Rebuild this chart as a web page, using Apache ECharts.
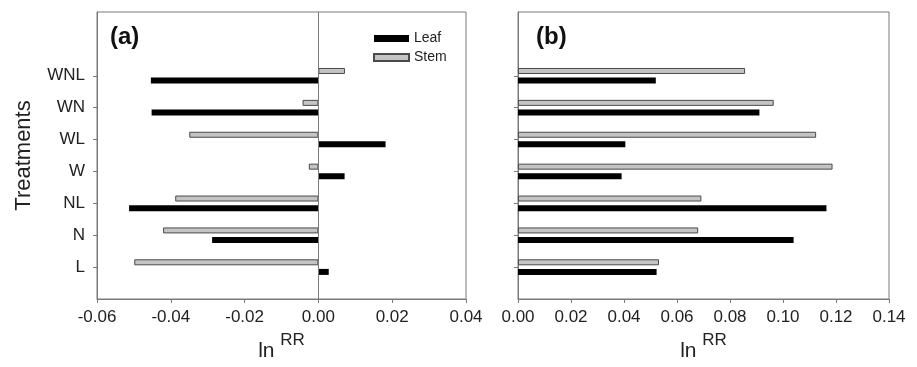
<!DOCTYPE html>
<html>
<head>
<meta charset="utf-8">
<script src="https://cdn.jsdelivr.net/npm/echarts@6/dist/echarts.min.js"></script>
<style>html,body{margin:0;padding:0;background:#fff}#c{width:917px;height:367px}</style>
</head>
<body>
<div id="c"></div>
<script>
// bottom to top
var categories = ['L', 'N', 'NL', 'W', 'WL', 'WN', 'WNL'];
var leafA = [0.0028, -0.0288, -0.0513, 0.0071, 0.0182, -0.0452, -0.0454];
var stemA = [-0.0499, -0.0421, -0.0388, -0.0026, -0.0350, -0.0043, 0.0072];
var leafB = [0.0523, 0.1040, 0.1164, 0.0391, 0.0405, 0.0911, 0.0520];
var stemB = [0.0532, 0.0680, 0.0692, 0.1187, 0.1125, 0.0965, 0.0857];
var xTicksA = [-0.06, -0.04, -0.02, 0.00, 0.02, 0.04];
var xTicksB = [0.00, 0.02, 0.04, 0.06, 0.08, 0.10, 0.12, 0.14];

function pad(arr) { return [null].concat(arr, [null, null]); }
var cats = pad(categories).map(function (v) { return v === null ? '' : v; });

var FONT = 'Liberation Sans, Arial, sans-serif';
var TXT = '#222';
var AX = '#7a7a7a';

function fmt(v) { return Math.abs(v) < 1e-9 ? '0.00' : v.toFixed(2); }

function xAxis(idx, ticks) {
  return {
    type: 'value', gridIndex: idx,
    min: ticks[0], max: ticks[ticks.length - 1], interval: 0.02,
    axisLine: { show: true, lineStyle: { color: AX, width: 1 } },
    axisTick: { show: true, length: 4, lineStyle: { color: AX } },
    splitLine: { show: false },
    axisLabel: { formatter: fmt, color: TXT, fontSize: 17, fontFamily: FONT, margin: 10 },
    name: '{a|ln }{b|RR}', nameLocation: 'middle', nameGap: 33,
    nameTextStyle: {
      fontFamily: FONT, color: TXT,
      rich: {
        a: { fontSize: 21, fontFamily: FONT, color: TXT, lineHeight: 30, verticalAlign: 'bottom' },
        b: { fontSize: 17, fontFamily: FONT, color: TXT, lineHeight: 30, verticalAlign: 'top' }
      }
    }
  };
}
function yAxis(idx, showLabels) {
  return {
    type: 'category', gridIndex: idx, data: cats, boundaryGap: false,
    axisLine: { show: true, onZero: false, lineStyle: { color: AX, width: 1 } },
    axisTick: { show: true, length: 4, lineStyle: { color: AX },
      interval: function (i, v) { return v !== ''; } },
    axisLabel: { show: showLabels, interval: 0, color: TXT, fontSize: 17, fontFamily: FONT, margin: 12 },
    splitLine: { show: false },
    name: showLabels ? 'Treatments' : '',
    nameLocation: 'middle', nameRotate: 90, nameGap: 62,
    nameTextStyle: { fontSize: 22, fontFamily: FONT, color: TXT }
  };
}
var leafStyle = { color: '#000', borderColor: '#000', borderWidth: 0 };
var stemStyle = { color: '#c4c4c4', borderColor: '#4a4a4a', borderWidth: 1 };

var option = {
  animation: false,
  backgroundColor: '#fff',
  title: [
    { text: '(a)', left: 105, top: 20, textStyle: { fontSize: 24, fontWeight: 'bold', fontFamily: FONT, color: '#111' } },
    { text: '(b)', left: 531, top: 20, textStyle: { fontSize: 24, fontWeight: 'bold', fontFamily: FONT, color: '#111' } }
  ],
  legend: {
    data: ['Leaf', 'Stem'], orient: 'vertical', left: 368, top: 26,
    itemWidth: 35, itemHeight: 7, itemGap: 4, icon: 'rect',
    textStyle: { fontSize: 14, fontFamily: FONT, color: TXT, lineHeight: 15 }
  },
  grid: [
    { left: 97, right: 451, top: 12, bottom: 65, show: true, borderColor: AX, borderWidth: 1, backgroundColor: 'transparent' },
    { left: 518, right: 28, top: 12, bottom: 65, show: true, borderColor: AX, borderWidth: 1, backgroundColor: 'transparent' }
  ],
  xAxis: [xAxis(0, xTicksA), xAxis(1, xTicksB)],
  yAxis: [yAxis(0, true), yAxis(1, false)],
  series: [
    { name: 'Stem', type: 'bar', xAxisIndex: 0, yAxisIndex: 0, data: pad(stemA), barWidth: 6, barGap: '60%', itemStyle: stemStyle,
      markLine: { silent: true, symbol: ['none', 'none'], label: { show: false }, lineStyle: { color: AX, type: 'solid', width: 1 }, data: [{ xAxis: 0 }] } },
    { name: 'Leaf', type: 'bar', xAxisIndex: 0, yAxisIndex: 0, data: pad(leafA), barWidth: 6, barGap: '60%', itemStyle: leafStyle },
    { name: 'Stem', type: 'bar', xAxisIndex: 1, yAxisIndex: 1, data: pad(stemB), barWidth: 6, barGap: '60%', itemStyle: stemStyle },
    { name: 'Leaf', type: 'bar', xAxisIndex: 1, yAxisIndex: 1, data: pad(leafB), barWidth: 6, barGap: '60%', itemStyle: leafStyle }
  ]
};
var chart = echarts.init(document.getElementById('c'), null, { renderer: 'canvas' });
chart.setOption(option);
</script>
</body>
</html>
